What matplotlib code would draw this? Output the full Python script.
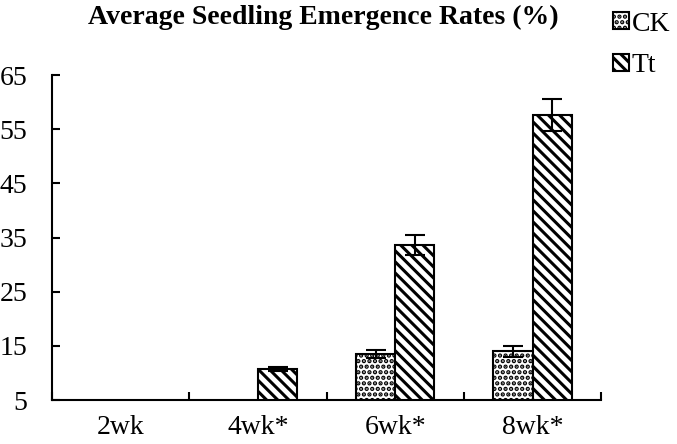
import matplotlib
matplotlib.use("Agg")
import matplotlib.pyplot as plt
import numpy as np

# ── 数据 ──────────────────────────────────────────────
weeks = ['2wk', '4wk*', '6wk*', '8wk*']
ck_mean = [0.0, 0.0, 13.5, 14.0]
ck_err = [0.0, 0.0, 0.8, 1.0]
tt_mean = [0.0, 10.7, 33.6, 57.6]
tt_err = [0.0, 0.4, 1.8, 2.9]
yticks = [5, 15, 25, 35, 45, 55, 65]

plt.rcParams['font.family'] = ['Liberation Serif', 'DejaVu Serif']
plt.rcParams['hatch.linewidth'] = 2.2

fig = plt.figure(figsize=(6.77, 4.44), dpi=100)
ax = fig.add_axes([0.077, 0.099, 0.811, 0.732])

x = np.arange(len(weeks))
w = 0.285
ax.bar(x - w / 2, ck_mean, w, color='white', edgecolor='black',
       linewidth=1.5, hatch='...', label='CK', zorder=2)
ax.bar(x + w / 2, tt_mean, w, color='white', edgecolor='black',
       linewidth=1.5, hatch='\\\\\\', label='Tt', zorder=2)

# 误差线（只画有数据的）
for xs, m, e in ((x - w / 2, ck_mean, ck_err), (x + w / 2, tt_mean, tt_err)):
    for xi, mi, ei in zip(xs, m, e):
        if mi > 5:
            ax.errorbar(xi, mi, yerr=ei, fmt='none', ecolor='black',
                        elinewidth=1.5, capsize=7, capthick=1.5, zorder=3)

ax.set_xlim(-0.5, 3.5)
ax.set_ylim(5, 65)
ax.set_yticks(yticks)
ax.tick_params(axis='y', direction='in', length=6, width=1.5,
               labelsize=20, pad=18)
ax.set_xticks(x)
ax.set_xticklabels(weeks)
ax.set_xticks(np.arange(-0.5, 3.6, 1.0), minor=True)
ax.tick_params(axis='x', which='major', length=0, labelsize=20, pad=11)
ax.tick_params(axis='x', which='minor', direction='in', length=6, width=1.5)

for s in ('top', 'right'):
    ax.spines[s].set_visible(False)
for s in ('left', 'bottom'):
    ax.spines[s].set_linewidth(1.5)

fig.text(0.477, 0.96, 'Average Seedling Emergence Rates (%)', ha='center',
         va='center', fontsize=20, fontweight='bold')

fig.legend(loc='upper left', bbox_to_anchor=(0.902, 0.98), frameon=False,
           fontsize=20, handlelength=0.55, handleheight=0.55,
           handletextpad=0.1, labelspacing=0.6, borderaxespad=0.0,
           borderpad=0.1)

fig.savefig('out.png', dpi=100)
